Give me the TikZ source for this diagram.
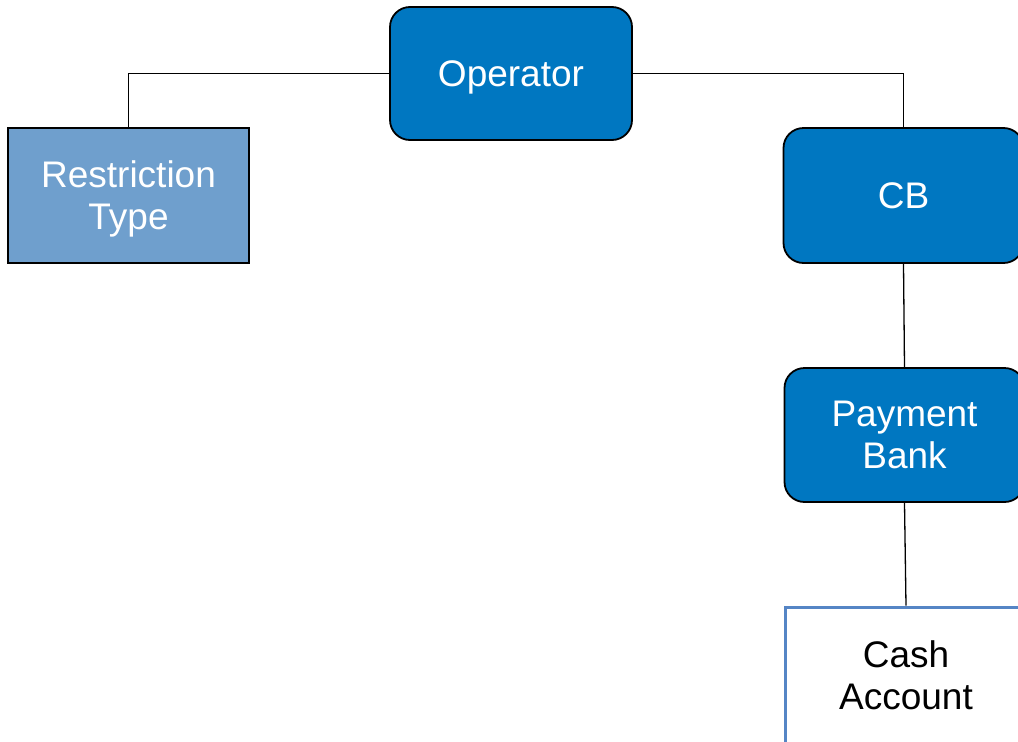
\documentclass[tikz,border=0pt]{standalone}
\usepackage{fontspec}
\setmainfont{Liberation Sans}
\definecolor{darkblue}{HTML}{0077C1}
\definecolor{lightblue}{HTML}{6F9FCD}
\definecolor{edgeblue}{HTML}{5585C5}
\begin{document}
\begin{tikzpicture}[x=1pt,y=-1pt,
  every node/.style={font=\fontsize{37}{42}\selectfont, align=center, inner sep=0pt, text depth=0pt},
  rbox/.style={draw=black, line width=1.8pt, rounded corners=20pt, fill=darkblue, text=white},
  sbox/.style={draw=black, line width=1.8pt, fill=lightblue, text=white},
  wbox/.style={draw=edgeblue, line width=3pt, fill=white, text=black},
  link/.style={draw=black, line width=1.3pt}]
\useasboundingbox (0,0) rectangle (1018,742);
\clip (0,0) rectangle (1018,742);
\node[rbox, minimum width=242pt, minimum height=133pt] (op) at (511,73.5) {Operator};
\node[sbox, minimum width=241pt, minimum height=135pt] (rt) at (128.5,195.5) {Restriction\\Type};
\node[rbox, minimum width=240pt, minimum height=135pt] (cb) at (903.5,195.5) {CB};
\node[rbox, minimum width=240pt, minimum height=134pt] (pb) at (904.5,435) {Payment\\Bank};
\node[wbox, minimum width=242pt, minimum height=136pt] (ca) at (906,675) {Cash\\Account};
\draw[link] (op.west) -| (rt.north);
\draw[link] (op.east) -| (cb.north);
\draw[link] (cb.south) -- (pb.north);
\draw[link] (pb.south) -- (ca.north);
\end{tikzpicture}
\end{document}
